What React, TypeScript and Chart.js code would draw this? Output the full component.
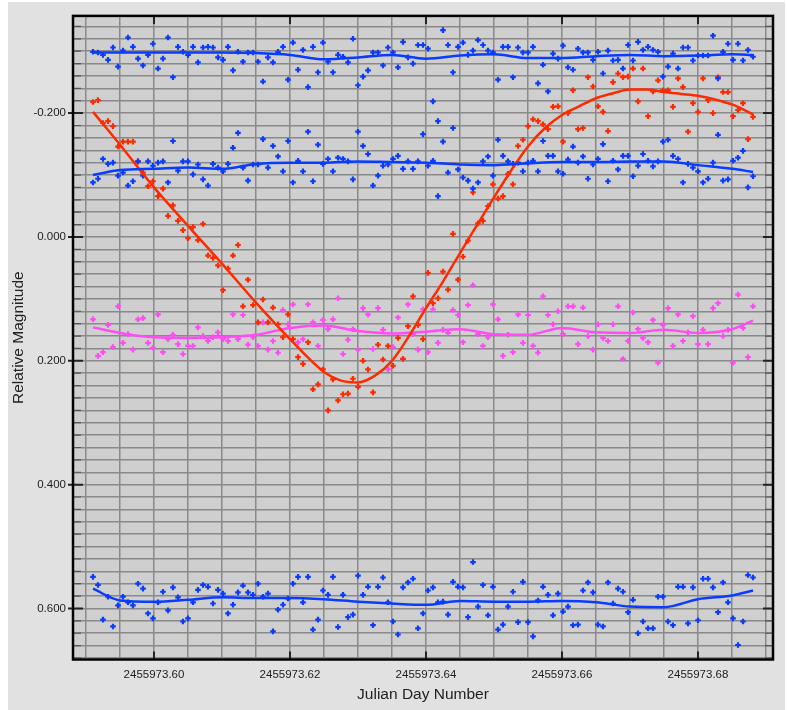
import React, { useEffect, useRef } from 'react';
import { Chart, registerables } from 'chart.js';

Chart.register(...registerables);

const JD_BASE = 2455973;

// Observation times (fraction of day after JD 2455973)
const obsTime = [
  0.59103, 0.59176, 0.5925, 0.59324, 0.59397, 0.59471, 0.59544, 0.59618, 0.59691, 0.59765,
  0.59838, 0.59912, 0.59985, 0.60059, 0.60132, 0.60206, 0.60279, 0.60353, 0.60426, 0.605,
  0.60574, 0.60647, 0.60721, 0.60794, 0.60868, 0.60941, 0.61015, 0.61088, 0.61162, 0.61235,
  0.61309, 0.61382, 0.61456, 0.61529, 0.61603, 0.61676, 0.6175, 0.61824, 0.61897, 0.61971,
  0.62044, 0.62118, 0.62191, 0.62265, 0.62338, 0.62412, 0.62485, 0.62559, 0.62632, 0.62706,
  0.62779, 0.62853, 0.62926, 0.63, 0.63074, 0.63147, 0.63221, 0.63294, 0.63368, 0.63441,
  0.63515, 0.63588, 0.63662, 0.63735, 0.63809, 0.63882, 0.63956, 0.64029, 0.64103, 0.64176,
  0.6425, 0.64324, 0.64397, 0.64471, 0.64544, 0.64618, 0.64691, 0.64765, 0.64838, 0.64912,
  0.64985, 0.65059, 0.65132, 0.65206, 0.65279, 0.65353, 0.65426, 0.655, 0.65574, 0.65647,
  0.65721, 0.65794, 0.65868, 0.65941, 0.66015, 0.66088, 0.66162, 0.66235, 0.66309, 0.66382,
  0.66456, 0.66529, 0.66603, 0.66676, 0.6675, 0.66824, 0.66897, 0.66971, 0.67044, 0.67118,
  0.67191, 0.67265, 0.67338, 0.67412, 0.67485, 0.67559, 0.67632, 0.67706, 0.67779, 0.67853,
  0.67926, 0.68, 0.68074, 0.68147, 0.68221, 0.68294, 0.68368, 0.68441, 0.68515, 0.68588,
  0.68662, 0.68735, 0.68809,
];

// Comparison star A (top, blue)
const compStarA = [
  -0.299, -0.298, -0.294, -0.286, -0.306, -0.275, -0.301, -0.322, -0.307, -0.288,
  -0.277, -0.294, -0.312, -0.272, -0.288, -0.322, -0.258, -0.307, -0.299, -0.294,
  -0.307, -0.282, -0.306, -0.307, -0.306, -0.29, -0.286, -0.307, -0.269, -0.299,
  -0.283, -0.298, -0.298, -0.283, -0.251, -0.29, -0.282, -0.299, -0.307, -0.254,
  -0.314, -0.27, -0.302, -0.242, -0.307, -0.266, -0.314, -0.283, -0.266, -0.294,
  -0.291, -0.282, -0.32, -0.245, -0.259, -0.269, -0.298, -0.298, -0.277, -0.306,
  -0.298, -0.274, -0.315, -0.29, -0.28, -0.31, -0.31, -0.304, -0.219, -0.187,
  -0.334, -0.31, -0.266, -0.307, -0.314, -0.294, -0.301, -0.318, -0.31, -0.301,
  -0.298, -0.254, -0.307, -0.307, -0.258, -0.306, -0.298, -0.298, -0.307, -0.248,
  -0.278, -0.235, -0.296, -0.288, -0.309, -0.274, -0.27, -0.304, -0.298, -0.298,
  -0.286, -0.299, -0.264, -0.301, -0.285, -0.286, -0.272, -0.31, -0.285, -0.315,
  -0.302, -0.307, -0.302, -0.299, -0.259, -0.275, -0.296, -0.272, -0.306, -0.306,
  -0.285, -0.293, -0.293, -0.293, -0.325, -0.256, -0.299, -0.312, -0.286, -0.312,
  -0.285, -0.302, -0.291,
];

// Comparison star B (second, blue)
const compStarB = [
  -0.088, -0.094, -0.126, -0.118, -0.12, -0.099, -0.104, -0.083, -0.09, -0.122,
  -0.099, -0.122, -0.115, -0.12, -0.122, -0.088, -0.155, -0.107, -0.122, -0.122,
  -0.101, -0.117, -0.093, -0.083, -0.118, -0.112, -0.106, -0.118, -0.144, -0.168,
  -0.112, -0.091, -0.117, -0.117, -0.158, -0.112, -0.147, -0.13, -0.106, -0.155,
  -0.088, -0.123, -0.106, -0.17, -0.09, -0.149, -0.118, -0.126, -0.106, -0.128,
  -0.126, -0.122, -0.093, -0.17, -0.147, -0.134, -0.083, -0.099, -0.115, -0.117,
  -0.126, -0.131, -0.11, -0.122, -0.11, -0.122, -0.166, -0.115, -0.123, -0.066,
  -0.154, -0.104, -0.176, -0.109, -0.096, -0.091, -0.078, -0.088, -0.122, -0.13,
  -0.099, -0.157, -0.131, -0.122, -0.118, -0.12, -0.106, -0.12, -0.123, -0.106,
  -0.155, -0.131, -0.131, -0.106, -0.102, -0.125, -0.146, -0.12, -0.13, -0.094,
  -0.117, -0.126, -0.15, -0.09, -0.123, -0.109, -0.131, -0.131, -0.098, -0.115,
  -0.134, -0.123, -0.114, -0.122, -0.154, -0.157, -0.131, -0.126, -0.088, -0.118,
  -0.112, -0.106, -0.088, -0.094, -0.12, -0.165, -0.091, -0.093, -0.123, -0.128,
  -0.139, -0.08, -0.098,
];

// Variable star (red)
const variableStar = [
  -0.218, -0.221, -0.184, -0.187, -0.179, -0.146, -0.154, -0.154, -0.154, -0.122,
  -0.104, -0.082, -0.09, -0.066, -0.078, -0.034, -0.051, -0.026, -0.011, 0.002,
  -0.016, 0.005, -0.021, 0.03, 0.034, 0.046, 0.086, 0.051, 0.03, 0.013,
  0.112, 0.069, 0.11, 0.138, 0.101, 0.138, 0.114, 0.141, 0.162, 0.125,
  0.165, 0.194, 0.205, 0.17, 0.246, 0.238, 0.214, 0.28, 0.23, 0.264,
  0.254, 0.253, 0.229, 0.242, 0.2, 0.214, 0.251, 0.174, 0.198, 0.176,
  0.208, 0.163, 0.197, 0.144, 0.096, 0.142, 0.165, 0.058, 0.107, 0.099,
  0.056, 0.085, -0.005, 0.069, 0.032, 0.006, -0.072, -0.022, -0.026, -0.05,
  -0.085, -0.062, -0.066, -0.102, -0.085, -0.147, -0.157, -0.179, -0.19, -0.187,
  -0.182, -0.174, -0.21, -0.211, -0.154, -0.2, -0.237, -0.174, -0.176, -0.258,
  -0.243, -0.211, -0.202, -0.171, -0.25, -0.264, -0.258, -0.259, -0.272, -0.219,
  -0.272, -0.195, -0.235, -0.253, -0.237, -0.237, -0.21, -0.256, -0.242, -0.17,
  -0.216, -0.202, -0.256, -0.221, -0.2, -0.258, -0.234, -0.234, -0.195, -0.205,
  -0.216, -0.158, -0.194,
];

// Check star (magenta)
const checkStar = [
  0.133, 0.192, 0.186, 0.142, 0.178, 0.112, 0.171, 0.157, 0.182, 0.133,
  0.131, 0.171, 0.179, 0.125, 0.186, 0.165, 0.158, 0.173, 0.189, 0.176,
  0.176, 0.146, 0.16, 0.168, 0.162, 0.154, 0.165, 0.168, 0.125, 0.165,
  0.126, 0.174, 0.162, 0.176, 0.138, 0.182, 0.168, 0.187, 0.118, 0.141,
  0.109, 0.17, 0.165, 0.109, 0.138, 0.176, 0.134, 0.149, 0.133, 0.099,
  0.189, 0.166, 0.149, 0.182, 0.115, 0.125, 0.181, 0.115, 0.15, 0.214,
  0.178, 0.13, 0.197, 0.109, 0.157, 0.182, 0.117, 0.186, 0.117, 0.171,
  0.15, 0.155, 0.118, 0.126, 0.17, 0.11, 0.078, 0.157, 0.176, 0.162,
  0.109, 0.133, 0.192, 0.158, 0.186, 0.125, 0.171, 0.126, 0.176, 0.187,
  0.096, 0.126, 0.141, 0.12, 0.157, 0.112, 0.112, 0.173, 0.114, 0.16,
  0.182, 0.141, 0.163, 0.168, 0.141, 0.112, 0.197, 0.168, 0.122, 0.149,
  0.163, 0.17, 0.134, 0.203, 0.142, 0.115, 0.176, 0.125, 0.168, 0.154,
  0.128, 0.173, 0.15, 0.173, 0.115, 0.107, 0.16, 0.15, 0.203, 0.093,
  0.147, 0.194, 0.112,
];

// Comparison star C (bottom, blue)
const compStarC = [
  0.549, 0.562, 0.618, 0.581, 0.629, 0.595, 0.581, 0.59, 0.595, 0.56,
  0.568, 0.608, 0.616, 0.59, 0.573, 0.603, 0.566, 0.582, 0.621, 0.616,
  0.59, 0.57, 0.562, 0.565, 0.592, 0.57, 0.576, 0.608, 0.594, 0.574,
  0.563, 0.574, 0.578, 0.56, 0.581, 0.576, 0.637, 0.602, 0.594, 0.584,
  0.56, 0.549, 0.59, 0.549, 0.634, 0.618, 0.571, 0.578, 0.549, 0.63,
  0.578, 0.614, 0.61, 0.547, 0.578, 0.565, 0.627, 0.565, 0.55, 0.59,
  0.621, 0.642, 0.566, 0.558, 0.552, 0.632, 0.608, 0.571, 0.566, 0.59,
  0.589, 0.61, 0.557, 0.565, 0.566, 0.614, 0.525, 0.597, 0.562, 0.611,
  0.565, 0.634, 0.626, 0.597, 0.573, 0.622, 0.557, 0.622, 0.645, 0.587,
  0.565, 0.578, 0.611, 0.576, 0.605, 0.597, 0.627, 0.626, 0.571, 0.558,
  0.574, 0.626, 0.629, 0.558, 0.592, 0.568, 0.573, 0.606, 0.586, 0.64,
  0.621, 0.632, 0.632, 0.581, 0.581, 0.621, 0.627, 0.565, 0.565, 0.624,
  0.566, 0.619, 0.552, 0.552, 0.566, 0.606, 0.558, 0.59, 0.616, 0.659,
  0.621, 0.546, 0.55,
];

// Smoothed fits
const fitTime = [
  0.59103, 0.595, 0.6, 0.605, 0.61, 0.615, 0.62, 0.625, 0.63, 0.635, 0.64,
  0.645, 0.65, 0.655, 0.66, 0.665, 0.67, 0.675, 0.68, 0.685, 0.68809,
];
const fitA = [
  -0.298, -0.298, -0.298, -0.298, -0.298, -0.297, -0.294, -0.287, -0.29, -0.294, -0.288,
  -0.293, -0.295, -0.289, -0.289, -0.292, -0.294, -0.292, -0.293, -0.295, -0.294,
];
const fitB = [
  -0.1, -0.108, -0.11, -0.112, -0.11, -0.118, -0.12, -0.12, -0.122, -0.121, -0.12,
  -0.117, -0.116, -0.119, -0.121, -0.121, -0.122, -0.122, -0.116, -0.11, -0.105,
];
const fitCheck = [
  0.146, 0.155, 0.162, 0.163, 0.162, 0.158, 0.147, 0.143, 0.152, 0.156, 0.153,
  0.149, 0.157, 0.158, 0.147, 0.154, 0.155, 0.15, 0.155, 0.149, 0.135,
];
const fitC = [
  0.568, 0.587, 0.589, 0.586, 0.582, 0.583, 0.583, 0.585, 0.589, 0.592, 0.594,
  0.588, 0.589, 0.589, 0.588, 0.59, 0.597, 0.598, 0.585, 0.579, 0.571,
];
const fitVarTime = [
  0.59103, 0.595, 0.6, 0.605, 0.61, 0.615, 0.62, 0.625, 0.6275, 0.63, 0.6325,
  0.635, 0.6375, 0.64, 0.6425, 0.645, 0.6475, 0.65, 0.6525, 0.655, 0.6575,
  0.66, 0.6625, 0.665, 0.6675, 0.67, 0.6725, 0.675, 0.6775, 0.68, 0.6825,
  0.685, 0.68809,
];
const fitVar = [
  -0.202, -0.149, -0.08, -0.018, 0.043, 0.106, 0.165, 0.218, 0.232, 0.235, 0.224,
  0.2, 0.16, 0.115, 0.072, 0.026, -0.019, -0.064, -0.107, -0.146, -0.176,
  -0.197, -0.211, -0.224, -0.232, -0.238, -0.238, -0.234, -0.231, -0.228, -0.222,
  -0.214, -0.198,
];

// Axes
const xRange = [0.58809, 0.69103];
const xGridStart = 0.59;
const xGridStep = 0.005;
const xGridCount = 21;
const xMajorTicks = [0.6, 0.62, 0.64, 0.66, 0.68];
const yRange = [-0.357, 0.6824];
const yGridStart = -0.34;
const yGridStep = 0.02;
const yGridCount = 52;
const yMajorTicks = [-0.2, 0, 0.2, 0.4, 0.6];

const BLUE = '#0a3cff';
const RED = '#ff2a00';
const MAGENTA = '#ff4cf5';
const FONT = "'Liberation Sans', Arial, Helvetica, sans-serif";

const isMajor = (v: number, majors: number[]) =>
  majors.some((m) => Math.abs(m - v) < 1e-6);

const framePlugin = {
  id: 'framePlugin',
  beforeDraw(chart: any) {
    const { ctx, chartArea: a } = chart;
    ctx.save();
    ctx.fillStyle = '#e1e1e1';
    ctx.fillRect(0, 0, chart.width, chart.height);
    ctx.fillStyle = '#cfcfcf';
    ctx.fillRect(a.left, a.top, a.right - a.left, a.bottom - a.top);
    ctx.restore();
  },
  afterDraw(chart: any) {
    const { ctx, chartArea: a, scales } = chart;
    ctx.save();
    scales.y.ticks.forEach((t: any) => {
      const py = scales.y.getPixelForValue(t.value);
      const major = isMajor(t.value, yMajorTicks);
      ctx.strokeStyle = major ? '#222' : '#555';
      ctx.lineWidth = major ? 2 : 1.2;
      ctx.beginPath();
      ctx.moveTo(a.left - (major ? 5 : 0), py);
      ctx.lineTo(a.left + (major ? 10 : 8), py);
      ctx.moveTo(a.right - (major ? 10 : 8), py);
      ctx.lineTo(a.right, py);
      ctx.stroke();
    });
    scales.x.ticks.forEach((t: any) => {
      if (!isMajor(t.value - JD_BASE, xMajorTicks)) return;
      const px = scales.x.getPixelForValue(t.value);
      ctx.strokeStyle = '#222';
      ctx.lineWidth = 2;
      ctx.beginPath();
      ctx.moveTo(px, a.bottom);
      ctx.lineTo(px, a.bottom - 8);
      ctx.moveTo(px, a.top);
      ctx.lineTo(px, a.top + 8);
      ctx.stroke();
    });
    ctx.strokeStyle = '#000';
    ctx.lineWidth = 2.5;
    ctx.strokeRect(a.left, a.top, a.right - a.left, a.bottom - a.top);
    ctx.restore();
  },
};

const scatterSet = (label: string, values: number[], color: string) => ({
  type: 'scatter' as const,
  label,
  data: obsTime.map((t, i) => ({ x: JD_BASE + t, y: values[i] })),
  pointStyle: 'cross',
  pointRadius: 2.8,
  borderWidth: 2.2,
  borderColor: color,
  backgroundColor: color,
  showLine: false,
  order: 1,
});

const lineSet = (label: string, times: number[], values: number[], color: string) => ({
  type: 'line' as const,
  label,
  data: times.map((t, i) => ({ x: JD_BASE + t, y: values[i] })),
  borderColor: color,
  backgroundColor: color,
  borderWidth: 2.5,
  pointRadius: 0,
  fill: false,
  cubicInterpolationMode: 'monotone' as const,
  order: 0,
});

export default function App() {
  const ref = useRef<HTMLCanvasElement | null>(null);

  useEffect(() => {
    if (!ref.current) return;
    const chart = new Chart(ref.current, {
      type: 'scatter',
      data: {
        datasets: [
          lineSet('Comp A fit', fitTime, fitA, BLUE),
          lineSet('Comp B fit', fitTime, fitB, BLUE),
          lineSet('Variable fit', fitVarTime, fitVar, RED),
          lineSet('Check fit', fitTime, fitCheck, MAGENTA),
          lineSet('Comp C fit', fitTime, fitC, BLUE),
          scatterSet('Comp A', compStarA, BLUE),
          scatterSet('Comp B', compStarB, BLUE),
          scatterSet('Variable', variableStar, RED),
          scatterSet('Check', checkStar, MAGENTA),
          scatterSet('Comp C', compStarC, BLUE),
        ] as any,
      },
      options: {
        animation: false,
        responsive: false,
        devicePixelRatio: 1,
        events: [],
        layout: { padding: { top: 9, right: 12, left: 0, bottom: 0 } },
        plugins: {
          legend: { display: false },
          tooltip: { enabled: false },
        },
        scales: {
          x: {
            type: 'linear',
            min: JD_BASE + xRange[0],
            max: JD_BASE + xRange[1],
            afterBuildTicks: (s: any) => {
              const ticks = [];
              for (let k = 0; k < xGridCount; k++) {
                ticks.push({ value: JD_BASE + Math.round((xGridStart + k * xGridStep) * 1000) / 1000 });
              }
              s.ticks = ticks;
            },
            afterFit: (s: any) => {
              s.height = 50.5;
            },
            grid: { color: '#8a8a8a', lineWidth: 1.5, drawTicks: false },
            border: { display: false },
            ticks: {
              autoSkip: false,
              maxRotation: 0,
              minRotation: 0,
              padding: 8,
              color: '#222',
              font: { family: FONT, size: 11.5 },
              callback: (v: any) => {
                const f = Number(v) - JD_BASE;
                return isMajor(f, xMajorTicks) ? (JD_BASE + f).toFixed(2) : '';
              },
            },
            title: {
              display: true,
              text: 'Julian Day Number',
              color: '#222',
              font: { family: FONT, size: 15.5 },
              padding: { top: 0, bottom: 6 },
            },
          },
          y: {
            type: 'linear',
            reverse: true,
            min: yRange[0],
            max: yRange[1],
            afterBuildTicks: (s: any) => {
              const ticks = [];
              for (let k = 0; k < yGridCount; k++) {
                ticks.push({ value: Math.round((yGridStart + k * yGridStep) * 1000) / 1000 });
              }
              s.ticks = ticks;
            },
            afterFit: (s: any) => {
              s.width = 65;
            },
            grid: { color: '#8a8a8a', lineWidth: 1.5, drawTicks: false },
            border: { display: false },
            ticks: {
              autoSkip: false,
              padding: 7,
              color: '#222',
              font: { family: FONT, size: 11.5 },
              callback: (v: any) => {
                const n = Number(v);
                return isMajor(n, yMajorTicks) ? (Math.round(n * 1000) / 1000).toFixed(3) : '';
              },
            },
            title: {
              display: true,
              text: 'Relative Magnitude',
              color: '#222',
              font: { family: FONT, size: 15.5 },
              padding: { top: 1.5, bottom: 0 },
            },
          },
        },
      },
      plugins: [framePlugin],
    });
    return () => chart.destroy();
  }, []);

  return (
    <div style={{ position: 'absolute', left: 8, top: 2, width: 777, height: 708 }}>
      <canvas ref={ref} width={777} height={708} style={{ display: 'block', width: 777, height: 708 }} />
    </div>
  );
}
